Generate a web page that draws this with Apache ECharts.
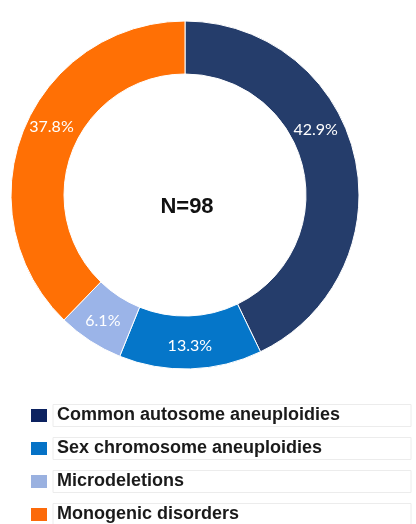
<!DOCTYPE html>
<html>
<head>
<meta charset="utf-8">
<script src="https://cdn.jsdelivr.net/npm/echarts@6/dist/echarts.min.js"></script>
<style>
html, body { margin: 0; padding: 0; background: #fff; }
#main { width: 416px; height: 524px; }
</style>
</head>
<body>
<div id="main"></div>
<script>
// 数据
var categories = ['Common autosome aneuploidies', 'Sex chromosome aneuploidies', 'Microdeletions', 'Monogenic disorders'];
var counts = [42, 13, 6, 37];
var sliceColors = ['#253d6b', '#0576c9', '#9bb4e8', '#ff7005'];
var legendColors = ['#0c2260', '#0572c6', '#9ab1e0', '#fc6a0a'];
var total = 98;

var myChart = echarts.init(document.getElementById('main'));

var pieData = [];
var legendData = [];
for (var i = 0; i < categories.length; i++) {
    pieData.push({
        value: counts[i],
        name: categories[i],
        itemStyle: { color: sliceColors[i] }
    });
    legendData.push({
        name: categories[i],
        itemStyle: { color: legendColors[i] }
    });
}

var option = {
    backgroundColor: '#fff',
    animation: false,
    // 中间文字
    title: {
        text: 'N=' + total,
        left: 182,
        top: 202,
        textAlign: 'center',
        textVerticalAlign: 'middle',
        textStyle: {
            fontFamily: 'Liberation Sans',
            fontWeight: 'bold',
            fontSize: 22,
            color: '#111'
        }
    },
    // 图例
    legend: {
        orient: 'vertical',
        left: 29,
        top: 404,
        height: 160,
        padding: 0,
        itemWidth: 18,
        itemHeight: 15,
        itemGap: 10,
        icon: 'rect',
        data: legendData,
        textStyle: {
            fontFamily: 'Liberation Sans',
            fontWeight: 'bold',
            fontSize: 18,
            color: '#1a1a1a',
            lineHeight: 16,
            width: 350,
            padding: [3, 4],
            borderColor: '#ececec',
            borderWidth: 1
        }
    },
    series: [{
        name: 'N=98',
        type: 'pie',
        center: [185, 195],
        radius: [121, 174],
        startAngle: 90,
        clockwise: true,
        data: pieData,
        itemStyle: {
            borderColor: '#fff',
            borderWidth: 1
        },
        label: {
            position: 'inside',
            color: '#fff',
            fontFamily: 'Lato',
            fontSize: 16,
            formatter: function (p) {
                return (p.value / total * 100).toFixed(1) + '%';
            }
        },
        labelLine: { show: false },
        labelLayout: function (params) {
            // 大扇区标签略往上移
            if (params.dataIndex === 0) return { dy: -32, dx: -16 };
            if (params.dataIndex === 3) return { dy: -12, dx: 6 };
            return {};
        }
    }]
};

myChart.setOption(option);
</script>
</body>
</html>
